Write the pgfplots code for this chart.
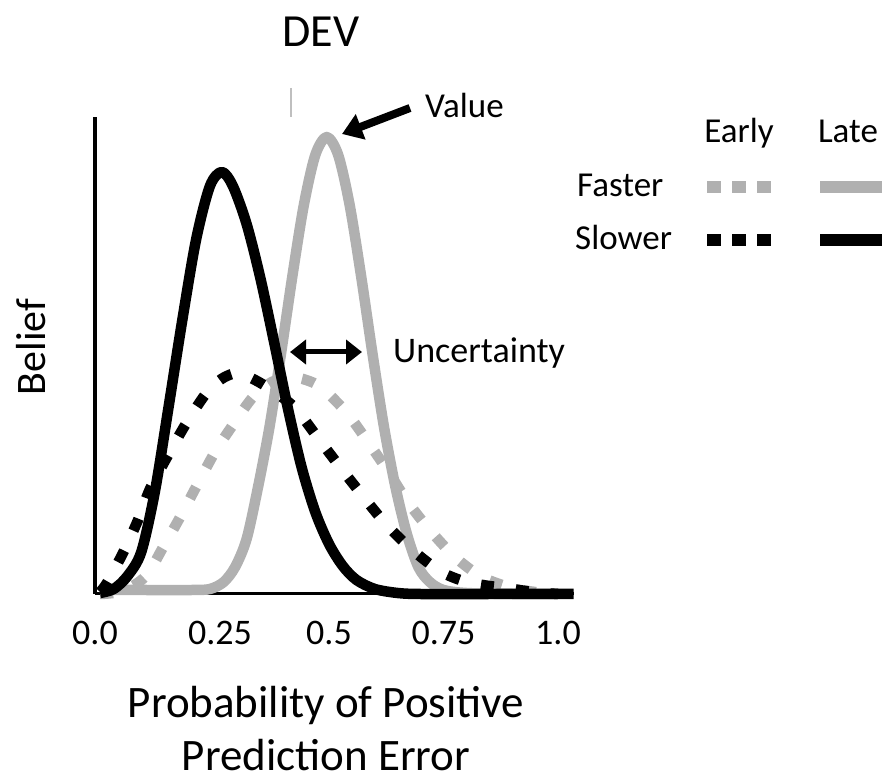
\documentclass[border=0pt]{standalone}
\usepackage{fontspec}
\setmainfont{Carlito}
\usepackage{pgfplots}
\pgfplotsset{compat=1.18}
\usetikzlibrary{arrows.meta}
\definecolor{lgray}{RGB}{176,176,176}
\begin{document}
\begin{tikzpicture}
\path[use as bounding box] (0,0) rectangle (887pt,780pt);
\begin{axis}[
  at={(95pt,186pt)}, anchor=south west,
  scale only axis, width=478.6pt, height=477pt,
  xmin=-0.011, xmax=1.034, ymin=0, ymax=477,
  axis x line=bottom, axis y line=left,
  x axis line style={-, line width=3pt},
  y axis line style={-, line width=4pt},
  xtick={-0.011,0.262,0.5,0.75,1}, xticklabels={0.0,0.25,0.5,0.75,1.0},
  ytick=\empty,
  major tick length=0pt,
  xticklabel style={anchor=base, yshift=-51pt, font=\fontsize{36}{40}\selectfont},
  /pgf/number format/assume math mode=true,
  clip=false,
]
% Late, Faster (gray solid)
\addplot[lgray, line width=10.5pt, smooth, line join=round] coordinates {
 (0.00,4) (0.10,4) (0.20,4) (0.24,5) (0.27,12) (0.295,27) (0.32,55) (0.345,107)
 (0.37,167) (0.395,240) (0.42,318) (0.445,389) (0.47,439) (0.495,457)
 (0.52,439) (0.545,389) (0.57,318) (0.595,240) (0.62,167) (0.645,107)
 (0.67,60) (0.695,27) (0.72,12) (0.75,4) (0.80,1) (0.90,0) (1.0,0)
};
% Early, Faster (gray dashed)
\addplot[lgray, line width=10.5pt, smooth, dash pattern=on 13pt off 22pt] coordinates {
 (0.00,0) (0.05,3) (0.10,18) (0.138,47) (0.175,77) (0.212,109) (0.251,142)
 (0.29,169) (0.334,197) (0.375,212) (0.415,217) (0.45,214) (0.485,206)
 (0.539,181) (0.585,152) (0.63,122) (0.672,92) (0.72,64) (0.775,37)
 (0.834,17) (0.90,6) (0.95,2) (1.0,0)
};
% Early, Slower (black dashed)
\addplot[black, line width=10.5pt, smooth, dash pattern=on 13pt off 22pt] coordinates {
 (0.00,2) (0.015,11) (0.05,41) (0.083,74) (0.109,105) (0.15,140) (0.186,169)
 (0.229,199) (0.265,215) (0.299,221) (0.33,216) (0.365,207) (0.40,196)
 (0.43,184) (0.476,156) (0.524,127) (0.572,99) (0.622,71) (0.677,46)
 (0.738,24) (0.78,15) (0.812,11) (0.85,8) (0.888,6) (0.93,3) (0.97,1) (1.0,0)
};
% Late, Slower (black solid)
\addplot[black, line width=10.5pt, smooth, line join=round] coordinates {
 (0.00,1) (0.03,5) (0.06,18) (0.09,42) (0.12,103) (0.15,188) (0.18,275)
 (0.21,355) (0.24,408) (0.266,422) (0.29,408) (0.32,370) (0.35,316)
 (0.38,252) (0.41,186) (0.44,127) (0.47,82) (0.50,50) (0.53,28) (0.56,14)
 (0.60,5) (0.65,1) (0.70,0) (0.85,0) (1.034,0)
};
\end{axis}
% title
\node[anchor=base, inner sep=0pt, font=\fontsize{46}{50}\selectfont] at (321pt,733pt) {DEV};
% faint mark
\draw[gray!50, line width=1.5pt] (291pt,692pt) -- (291pt,663pt);
% Value annotation
\draw[line width=8pt, -{Triangle[length=20pt,width=26pt]}] (410pt,672pt) -- (342pt,646pt);
\node[anchor=base west, inner sep=0pt, font=\fontsize{35}{40}\selectfont] at (425pt,662pt) {Value};
% Uncertainty annotation
\draw[line width=5pt, {Triangle[length=16pt,width=24pt]}-{Triangle[length=16pt,width=24pt]}] (290pt,428pt) -- (362pt,428pt);
\node[anchor=base west, inner sep=0pt, font=\fontsize{36}{40}\selectfont] at (393pt,417pt) {Uncertainty};
% y label
\node[anchor=base, rotate=90, inner sep=0pt, font=\fontsize{42}{46}\selectfont] at (45pt,433pt) {Belief};
% x label
\node[anchor=base, inner sep=0pt, font=\fontsize{45}{50}\selectfont] at (326pt,63pt) {Probability of Positive};
\node[anchor=base, inner sep=0pt, font=\fontsize{45}{50}\selectfont] at (326pt,10pt) {Prediction Error};
% legend
\node[anchor=base, inner sep=0pt, font=\fontsize{35}{40}\selectfont] at (739pt,637pt) {Early};
\node[anchor=base, inner sep=0pt, font=\fontsize{35}{40}\selectfont] at (848pt,637pt) {Late};
\node[anchor=base west, inner sep=0pt, font=\fontsize{35}{40}\selectfont] at (577pt,583pt) {Faster};
\node[anchor=base west, inner sep=0pt, font=\fontsize{35}{40}\selectfont] at (575pt,530pt) {Slower};
\draw[lgray, line width=12pt, dash pattern=on 14pt off 11pt] (707pt,593pt) -- (773pt,593pt);
\draw[lgray, line width=12pt] (820pt,593pt) -- (882pt,593pt);
\draw[black, line width=12pt, dash pattern=on 14pt off 11pt] (707pt,540pt) -- (773pt,540pt);
\draw[black, line width=12pt] (820pt,540pt) -- (882pt,540pt);
\end{tikzpicture}
\end{document}
